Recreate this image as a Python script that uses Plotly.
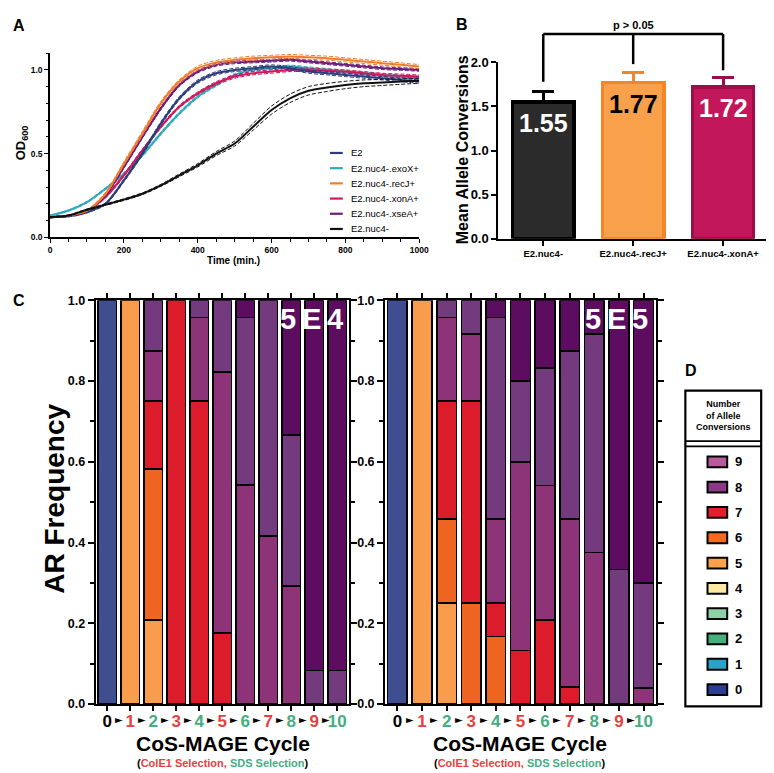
import plotly.graph_objects as go

W, H = 774, 773
FONT = "Liberation Sans"


def px(x):
    return x / W


def py(y):
    return 1 - y / H


# ---------------- Panel A : growth curves ----------------
time_min = [0, 50, 100, 150, 200, 250, 300, 350, 400, 450, 500, 550, 600, 650, 700, 750, 800, 850, 900, 950, 1000]
od_E2 = [0.12, 0.125, 0.15, 0.20, 0.34, 0.50, 0.68, 0.83, 0.93, 0.98, 1.00, 1.01, 1.02, 1.01, 0.99, 0.98, 0.97, 0.96, 0.95, 0.94, 0.93]
od_exoX = [0.13, 0.16, 0.21, 0.29, 0.38, 0.49, 0.62, 0.74, 0.84, 0.91, 0.97, 1.00, 1.01, 1.02, 1.01, 1.00, 0.99, 0.98, 0.97, 0.96, 0.95]
od_recJ = [0.12, 0.13, 0.16, 0.26, 0.44, 0.62, 0.80, 0.93, 1.01, 1.045, 1.06, 1.07, 1.075, 1.08, 1.075, 1.07, 1.06, 1.05, 1.04, 1.03, 1.02]
od_xonA = [0.12, 0.13, 0.16, 0.24, 0.37, 0.52, 0.66, 0.78, 0.86, 0.92, 0.96, 0.98, 0.99, 1.00, 1.00, 0.995, 0.99, 0.98, 0.97, 0.965, 0.96]
od_xseA = [0.12, 0.13, 0.16, 0.25, 0.42, 0.60, 0.77, 0.91, 0.99, 1.03, 1.045, 1.05, 1.055, 1.06, 1.05, 1.04, 1.03, 1.02, 1.01, 1.005, 1.00]
od_nuc4 = [0.12, 0.13, 0.165, 0.195, 0.225, 0.26, 0.31, 0.37, 0.43, 0.50, 0.56, 0.66, 0.76, 0.83, 0.875, 0.895, 0.91, 0.92, 0.925, 0.93, 0.935]

sem_E2 = [0.003, 0.003, 0.004, 0.006, 0.008, 0.010, 0.010, 0.010, 0.010, 0.010, 0.010, 0.010, 0.010, 0.010, 0.010, 0.010, 0.010, 0.010, 0.010, 0.010, 0.010]
sem_exoX = [0.003, 0.004, 0.005, 0.006, 0.007, 0.008, 0.008, 0.008, 0.008, 0.008, 0.008, 0.008, 0.008, 0.008, 0.008, 0.008, 0.008, 0.008, 0.008, 0.008, 0.008]
sem_recJ = [0.003, 0.003, 0.004, 0.008, 0.010, 0.012, 0.012, 0.012, 0.012, 0.012, 0.012, 0.012, 0.012, 0.012, 0.012, 0.012, 0.012, 0.012, 0.012, 0.012, 0.012]
sem_xonA = [0.003, 0.003, 0.004, 0.006, 0.008, 0.008, 0.008, 0.008, 0.008, 0.010, 0.010, 0.010, 0.010, 0.010, 0.010, 0.010, 0.010, 0.010, 0.010, 0.010, 0.010]
sem_xseA = [0.003, 0.003, 0.004, 0.006, 0.008, 0.008, 0.008, 0.008, 0.008, 0.008, 0.008, 0.008, 0.008, 0.008, 0.008, 0.008, 0.008, 0.008, 0.008, 0.008, 0.008]
sem_nuc4 = [0.003, 0.003, 0.004, 0.004, 0.005, 0.005, 0.006, 0.008, 0.010, 0.012, 0.015, 0.020, 0.024, 0.025, 0.025, 0.024, 0.022, 0.020, 0.018, 0.016, 0.015]

growth_names = ["E2", "E2.nuc4-.exoX+", "E2.nuc4-.recJ+", "E2.nuc4-.xonA+", "E2.nuc4-.xseA+", "E2.nuc4-"]
growth_colors = ["#2B3C7C", "#2FA9BE", "#F47B2B", "#D0175C", "#6B1C7C", "#111111"]
growth_means = [od_E2, od_exoX, od_recJ, od_xonA, od_xseA, od_nuc4]
growth_sems = [sem_E2, sem_exoX, sem_recJ, sem_xonA, sem_xseA, sem_nuc4]
draw_order = [1, 3, 0, 4, 2, 5]

# ---------------- Panel B : mean allele conversions ----------------
b_categories = ["E2.nuc4-", "E2.nuc4-.recJ+", "E2.nuc4-.xonA+"]
b_means = [1.55, 1.77, 1.72]
b_errors = [0.12, 0.11, 0.11]
b_fill = ["#2B2B2B", "#F9A04A", "#C2185B"]
b_edge = ["#000000", "#F4862A", "#9C0E4A"]
b_text_color = ["white", "black", "white"]
p_label = "p > 0.05"

# ---------------- Panel C : allele-conversion frequency per cycle ----------------
cycles = [0, 1, 2, 3, 4, 5, 6, 7, 8, 9, 10]
cycle_selection = ["none", "ColE1", "SDS", "ColE1", "SDS", "ColE1", "SDS", "ColE1", "SDS", "ColE1", "SDS"]
bar_levels = ["0", "5", "6", "7", "8", "9", "10"]
bar_level_colors = ["#3F4E8E", "#F99C4B", "#EE6522", "#DC1B2B", "#8D3479", "#743A7E", "#5D0D5F"]

e4_L0 = [1, 0, 0, 0, 0, 0, 0, 0, 0, 0, 0]
e4_L5 = [0, 1, 0.208, 0, 0, 0, 0, 0, 0, 0, 0]
e4_L6 = [0, 0, 0.375, 0, 0, 0, 0, 0, 0, 0, 0]
e4_L7 = [0, 0, 0.167, 1, 0.75, 0.176, 0, 0, 0, 0, 0]
e4_L8 = [0, 0, 0.125, 0, 0.208, 0.647, 0.542, 0.417, 0.292, 0, 0]
e4_L9 = [0, 0, 0.125, 0, 0.042, 0.177, 0.416, 0.583, 0.375, 0.083, 0.083]
e4_L10 = [0, 0, 0, 0, 0, 0, 0.042, 0, 0.333, 0.917, 0.917]

e5_L0 = [1, 0, 0, 0, 0, 0, 0, 0, 0, 0, 0]
e5_L5 = [0, 1, 0.25, 0, 0, 0, 0, 0, 0, 0, 0]
e5_L6 = [0, 0, 0.208, 0.25, 0.167, 0, 0, 0, 0, 0, 0]
e5_L7 = [0, 0, 0.292, 0.5, 0.083, 0.133, 0.208, 0.042, 0, 0, 0]
e5_L8 = [0, 0, 0.208, 0.167, 0.208, 0.467, 0.333, 0.416, 0.375, 0, 0.04]
e5_L9 = [0, 0, 0.042, 0.083, 0.5, 0.2, 0.292, 0.417, 0.542, 0.333, 0.26]
e5_L10 = [0, 0, 0, 0, 0.042, 0.2, 0.167, 0.125, 0.083, 0.667, 0.70]

panel_e4 = [e4_L0, e4_L5, e4_L6, e4_L7, e4_L8, e4_L9, e4_L10]
panel_e5 = [e5_L0, e5_L5, e5_L6, e5_L7, e5_L8, e5_L9, e5_L10]
panel_names = ["5E4", "5E5"]

# ---------------- Panel D : legend ----------------
legend_levels = ["9", "8", "7", "6", "5", "4", "3", "2", "1", "0"]
legend_colors = ["#B95A9C", "#8A3A85", "#E31E2D", "#F26B21", "#FBA04B", "#FDE9A3", "#8FD0A8", "#45B07A", "#2AA3C8", "#2A3F8F"]

RED = "#E8403F"
GREEN = "#45AD80"
sel_color = {"none": "black", "ColE1": RED, "SDS": GREEN}

fig = go.Figure()

# ---- A traces
for i in draw_order:
    m = growth_means[i]
    s = growth_sems[i]
    c = growth_colors[i]
    up = [a + b for a, b in zip(m, s)]
    lo = [a - b for a, b in zip(m, s)]
    for band in (up, lo):
        fig.add_trace(go.Scatter(x=time_min, y=band, mode="lines", line=dict(color=c, width=1, dash="4px,2px", shape="spline", smoothing=0.8),
                                 xaxis="x", yaxis="y", showlegend=False, hoverinfo="skip"))
    fig.add_trace(go.Scatter(x=time_min, y=m, mode="lines", name=growth_names[i],
                             line=dict(color=c, width=2, shape="spline", smoothing=0.8),
                             xaxis="x", yaxis="y", showlegend=False))

# ---- B traces
for i, cat in enumerate(b_categories):
    fig.add_trace(go.Bar(x=[cat], y=[b_means[i]], width=0.68,
                         marker=dict(color=b_fill[i], line=dict(color=b_edge[i], width=3.5)),
                         error_y=dict(type="data", symmetric=False, array=[b_errors[i]], arrayminus=[0],
                                      color=b_edge[i], thickness=3, width=11),
                         xaxis="x2", yaxis="y2", showlegend=False))

# ---- C traces
for panel, xa, ya in ((panel_e4, "x3", "y3"), (panel_e5, "x4", "y4")):
    for lv, vals, col in zip(bar_levels, panel, bar_level_colors):
        fig.add_trace(go.Bar(x=cycles, y=[v if v else None for v in vals], width=0.8, name=lv,
                             marker=dict(color=col, line=dict(color="black", width=1.6)),
                             xaxis=xa, yaxis=ya, showlegend=False))

axis_common = dict(showgrid=False, zeroline=False, showline=True, linecolor="black", ticks="outside",
                   tickcolor="black")

ticktext_c = ['<span style="color:%s">%d</span>' % (sel_color[s], c) for c, s in zip(cycles, cycle_selection)]

layout = dict(
    width=W, height=H, margin=dict(l=0, r=0, t=0, b=0),
    paper_bgcolor="white", plot_bgcolor="white", showlegend=False, barmode="stack",
    font=dict(family=FONT, color="black"),
    # A
    xaxis=dict(domain=[px(40.7), px(415.7)], range=[0, 1000], tickvals=[0, 200, 400, 600, 800, 1000],
               ticklen=4, tickwidth=1.2, linewidth=1.5, anchor="y",
               minor=dict(dtick=50, ticklen=2.5, ticks="outside", tickcolor="black"),
               tickfont=dict(size=8.5, weight="bold"), **axis_common),
    yaxis=dict(domain=[py(226.7), py(38.9)], range=[0, 1.1], tickvals=[0, 0.5, 1.0], tickformat=".1f",
               ticklen=4, tickwidth=1.2, linewidth=1.5, anchor="x",
               minor=dict(dtick=0.1, ticklen=2.5, ticks="outside", tickcolor="black"),
               tickfont=dict(size=8.5, weight="bold"), **axis_common),
    # B
    xaxis2=dict(domain=[px(496), px(770)], range=[-0.5, 2.5], type="category", anchor="y2",
                ticklen=5, tickwidth=2, linewidth=2, tickfont=dict(size=9.5, weight="bold"), **axis_common),
    yaxis2=dict(domain=[py(228.3), py(48.3)], range=[0, 2.0], tickvals=[0, 0.5, 1.0, 1.5, 2.0], tickformat=".1f",
                ticklen=5, tickwidth=2, linewidth=2, anchor="x2",
                tickfont=dict(size=13, weight="bold"), **axis_common),
    # C left
    xaxis3=dict(domain=[px(87), px(344)], range=[-0.5, 10.5], tickvals=cycles, ticktext=ticktext_c,
                ticklen=5, tickwidth=1.5, linewidth=2, mirror="ticks", anchor="y3", ticklabelstandoff=-4,
                tickfont=dict(size=17, weight="bold"), **axis_common),
    yaxis3=dict(domain=[py(702.7), py(291)], range=[0, 1], tickvals=[0, 0.2, 0.4, 0.6, 0.8, 1.0], tickformat=".1f",
                ticklen=6, tickwidth=1.5, linewidth=2, mirror="ticks", anchor="x3",
                minor=dict(dtick=0.1, ticklen=4, ticks="outside", tickcolor="black"),
                tickfont=dict(size=12.5, weight="bold"), **axis_common),
    # C right
    xaxis4=dict(domain=[px(381), px(656)], range=[-0.5, 10.5], tickvals=cycles, ticktext=ticktext_c,
                ticklen=5, tickwidth=1.5, linewidth=2, mirror="ticks", anchor="y4", ticklabelstandoff=-4,
                tickfont=dict(size=17, weight="bold"), **axis_common),
    yaxis4=dict(domain=[py(702.7), py(291)], range=[0, 1], tickvals=[0, 0.2, 0.4, 0.6, 0.8, 1.0], tickformat=".1f",
                ticklen=6, tickwidth=1.5, linewidth=2, mirror="ticks", anchor="x4",
                minor=dict(dtick=0.1, ticklen=4, ticks="outside", tickcolor="black"),
                tickfont=dict(size=12.5, weight="bold"), **axis_common),
)
fig.update_layout(**layout)

ann = []
shapes = []


def text(x, y, t, size, bold=True, color="black", xanchor="center", yanchor="middle", angle=0, family=FONT):
    ann.append(dict(x=px(x), y=py(y), xref="paper", yref="paper", text=t, showarrow=False,
                    font=dict(family=family, size=size, color=color, weight="bold" if bold else "normal"),
                    xanchor=xanchor, yanchor=yanchor, textangle=angle))


# panel letters
text(9, 11, "A", 16)
text(459, 10, "B", 16)
text(9, 291, "C", 16)
text(692, 363, "D", 16)

# A axis titles & legend
text(12, 130, "OD<sub>600</sub>", 13, angle=-90)
text(227, 250, "Time (min.)", 10)
for k, (nm, col) in enumerate(zip(growth_names, growth_colors)):
    yk = 140.7 + k * 15.5
    shapes.append(dict(type="line", xref="paper", yref="paper", x0=px(325), x1=px(338), y0=py(yk), y1=py(yk),
                       line=dict(color=col, width=2.2)))
    text(344, yk, nm, 9.5, bold=False, xanchor="left")

# B value labels inside bars
for i, cat in enumerate(b_categories):
    ann.append(dict(x=cat, y=b_means[i], xref="x2", yref="y2", text="%.2f" % b_means[i], showarrow=False,
                    yanchor="middle", yshift=-21,
                    font=dict(family=FONT, size=25, weight="bold", color=b_text_color[i])))

# B titles and bracket
text(459, 137, "Mean Allele Conversions", 16, angle=-90)
bracket_top = 2.32
bracket_feet = [1.78, 1.98, 1.91]
y2max = 2.0
ncat = len(b_categories)
fx = [(i + 0.5) / ncat for i in range(ncat)]
shapes.append(dict(type="line", xref="x2 domain", yref="y2 domain", x0=fx[0], x1=fx[-1],
                   y0=bracket_top / y2max, y1=bracket_top / y2max, line=dict(color="black", width=2.5)))
for f, foot in zip(fx, bracket_feet):
    shapes.append(dict(type="line", xref="x2 domain", yref="y2 domain", x0=f, x1=f,
                       y0=foot / y2max, y1=bracket_top / y2max, line=dict(color="black", width=2.5)))
ann.append(dict(x=0.5, y=bracket_top / y2max, xref="x2 domain", yref="y2 domain", text=p_label, showarrow=False,
                yanchor="bottom", yshift=1, font=dict(family=FONT, size=11, weight="bold", color="black")))

# C titles
text(45, 493, "AR Frequency", 28, angle=-90)
for xa, cx, name, nx in (("x3", 216, panel_names[0], 306), ("x4", 518, panel_names[1], 616)):
    text(cx, 742.5, "CoS-MAGE Cycle", 21)
    text(cx, 762.5, '(<span style="color:%s">ColE1 Selection, </span><span style="color:%s">SDS Selection</span>)' % (RED, GREEN), 11)
    text(nx, 310, "\u2009".join(name), 29, color="white")
    for c in cycles[1:]:
        ann.append(dict(x=c - 0.5, y=py(718), xref=xa, yref="paper", text="\u25BA", showarrow=False,
                        font=dict(family="DejaVu Sans", size=10, color="black"), xanchor="center", yanchor="middle",
                        borderpad=0))

# D legend box
shapes.append(dict(type="rect", xref="paper", yref="paper", x0=px(686), x1=px(763), y0=py(383), y1=py(705),
                   line=dict(color="black", width=2.2), fillcolor="white"))
for yy in (434.5, 440):
    shapes.append(dict(type="line", xref="paper", yref="paper", x0=px(686), x1=px(763), y0=py(yy), y1=py(yy),
                       line=dict(color="black", width=1.8)))
text(724.5, 408, "Number<br>of Allele<br>Conversions", 9)
for k, (lv, col) in enumerate(zip(legend_levels, legend_colors)):
    yc = 455.7 + k * 25.8
    shapes.append(dict(type="rect", xref="paper", yref="paper", x0=px(708.5), x1=px(728.5), y0=py(yc + 5.5),
                       y1=py(yc - 5.5), line=dict(color="black", width=2), fillcolor=col))
    text(740, yc, lv, 13)

fig.update_layout(annotations=ann, shapes=shapes)
fig.write_html("out.html")
